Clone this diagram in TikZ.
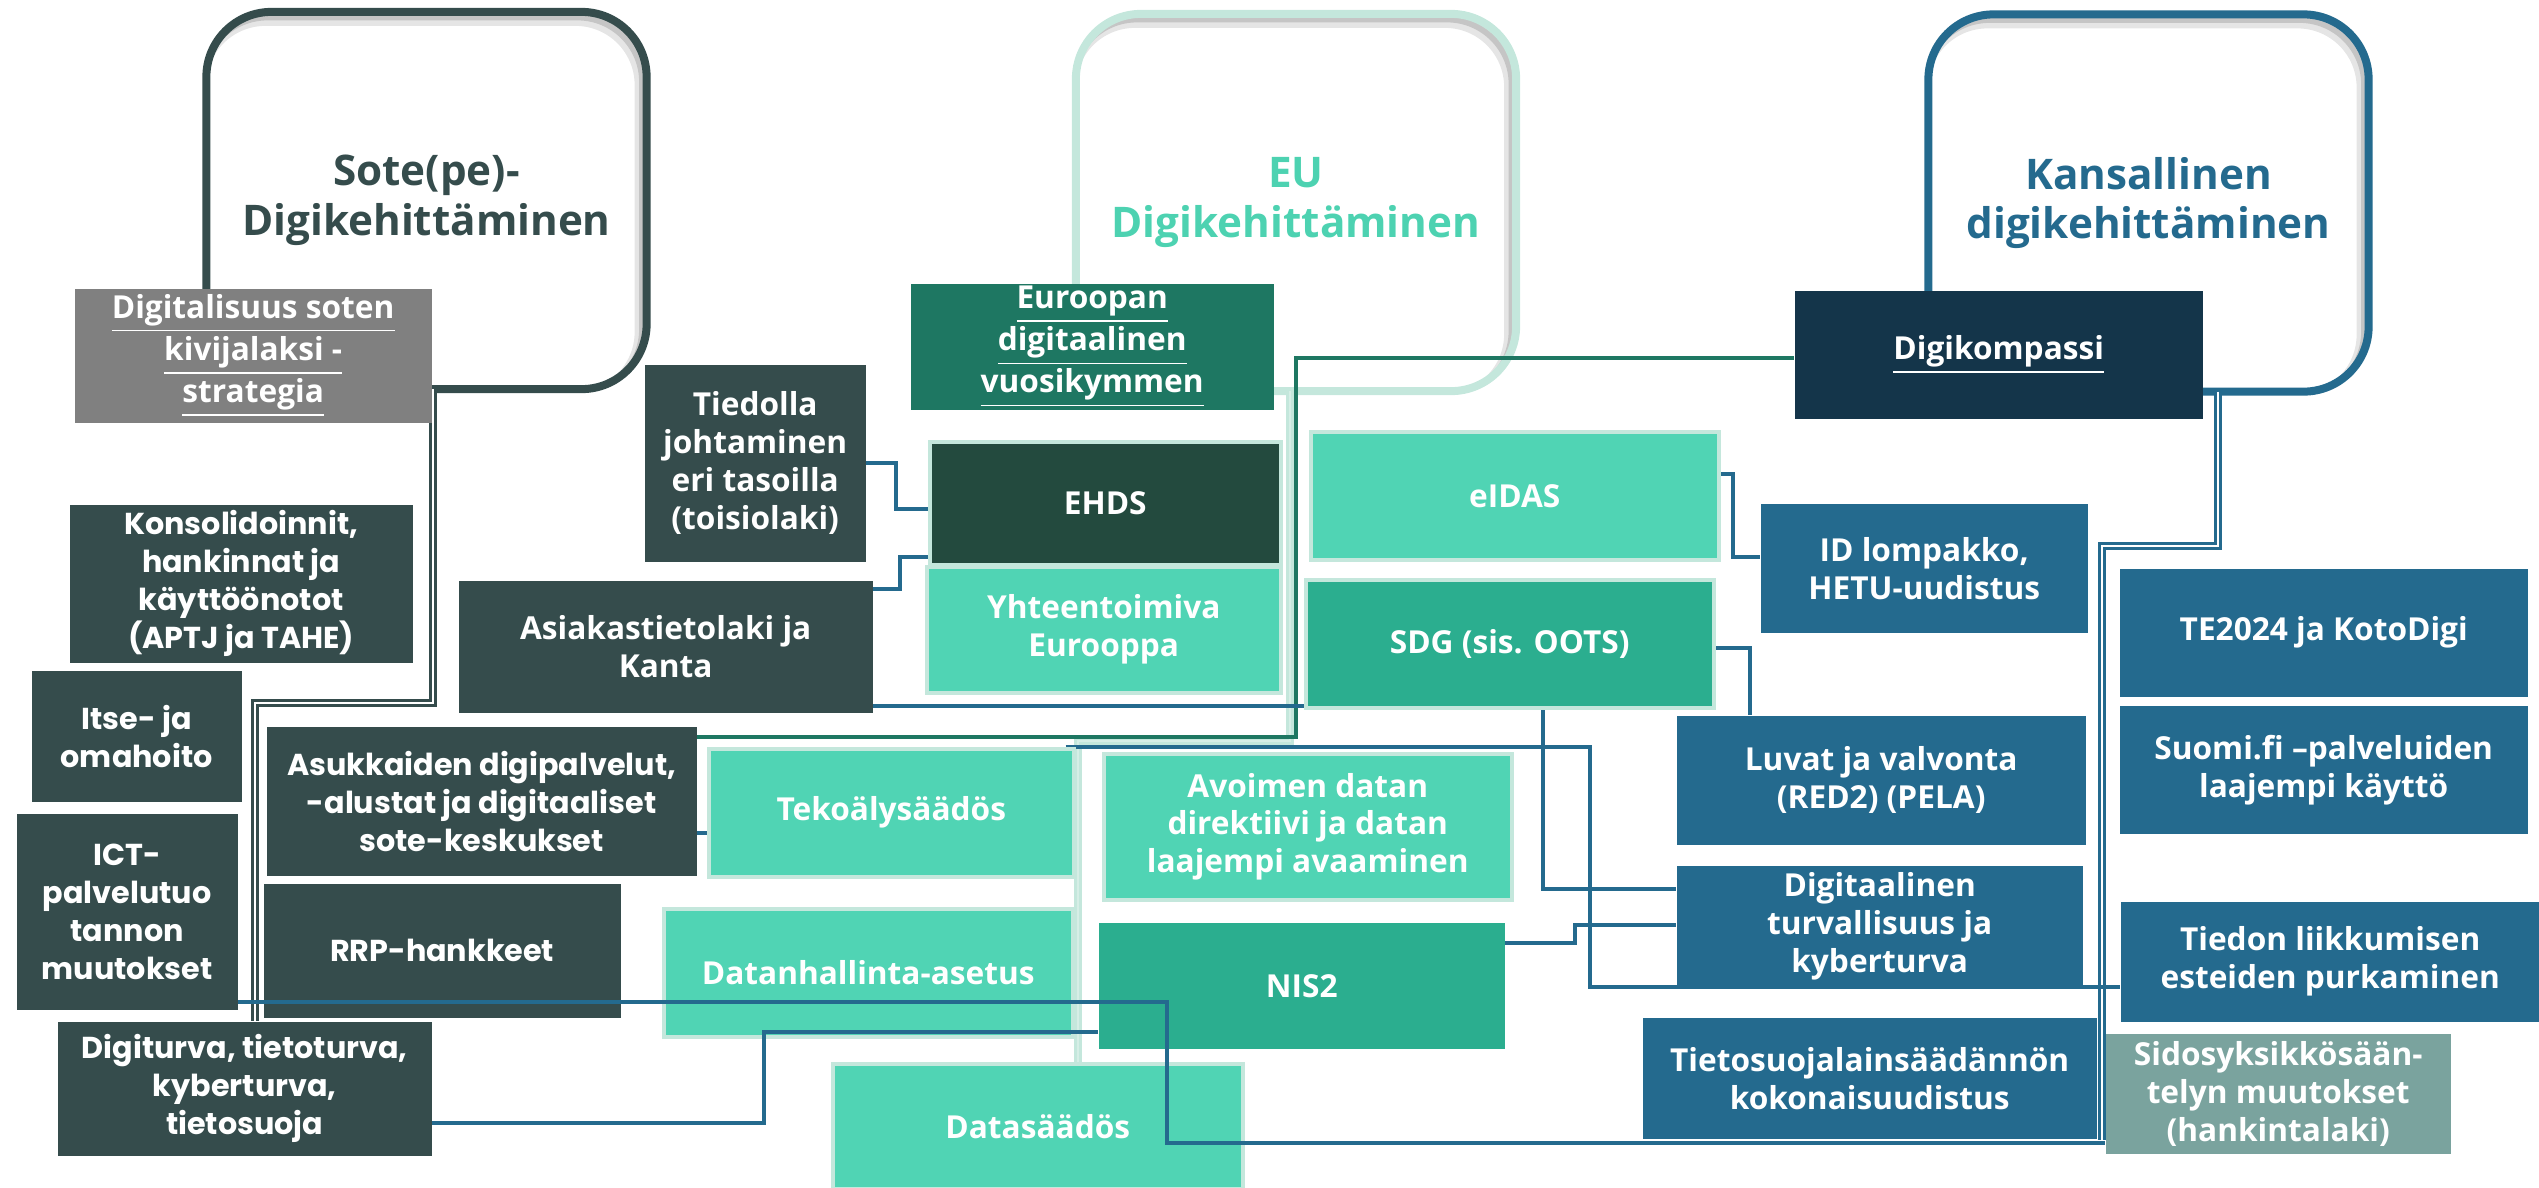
\documentclass[tikz,border=0pt]{standalone}
\usepackage{fontspec}
\setmainfont{Open Sans}
\newfontfamily\mont{Poppins}
\usetikzlibrary{calc}
\definecolor{sotec}{HTML}{354C4C}
\definecolor{greyc}{HTML}{808080}
\definecolor{tealc}{HTML}{1E7762}
\definecolor{ehdsc}{HTML}{234A3E}
\definecolor{mint}{HTML}{50D4B4}
\definecolor{pale}{HTML}{C4E7DC}
\definecolor{palein}{HTML}{D6EEE6}
\definecolor{sdgc}{HTML}{2BAE8F}
\definecolor{bluec}{HTML}{246A8E}
\definecolor{navy}{HTML}{14354A}
\definecolor{sidosc}{HTML}{7AA39E}
\definecolor{eutxt}{HTML}{4DD2B1}
\newcommand\titlef{\fontsize{12}{14.2}\selectfont\bfseries}
\newcommand\bodyf{\fontsize{9}{10.8}\selectfont\bfseries}
\newcommand\montf{\mont\fontsize{8.6}{10.8}\selectfont\bfseries}
\pgfdeclarelayer{shadow}
\pgfdeclarelayer{frames}
\pgfdeclarelayer{lines}
\pgfsetlayers{shadow,frames,lines,main}
\tikzset{
  frame/.style={rounded corners=0.65cm, line width=0.08cm, outer sep=0pt,
    minimum width=4.4cm, minimum height=3.77cm, align=center, font=\titlef, inner sep=0pt},
  soft shade/.style={draw=black, opacity=0.10, line width=0.12cm, rounded corners=0.65cm},
  hard shade/.style={draw=black, opacity=0.14, line width=0.07cm, rounded corners=0.65cm},
  box/.style={anchor=north west, inner sep=0pt, align=center, text=white, font=\bodyf},
  sbox/.style={box, fill=sotec, font=\montf},
  spbox/.style={box, fill=sotec},
  mbox/.style={box, fill=mint, draw=pale, line width=0.035cm},
  gbox/.style={box, fill=sdgc},
  nbox/.style={box, fill=bluec},
  dbl/.style={line width=0.034cm, double distance=0.017cm, double=white},
  bl/.style={draw=bluec, line width=0.035cm},
  tl/.style={draw=tealc, line width=0.035cm},
}
\newcommand\addbox[7][]{%
  \node[#1, minimum width={(#5-#3)*0.01cm}, minimum height={(#6-#4)*0.01cm}] (#2) at (#3,#4) {#7};}
\begin{document}
\begin{tikzpicture}[x=0.01cm,y=-0.01cm]
\useasboundingbox (0,0) rectangle (2539,1187);
\begin{pgfonlayer}{frames}
\node[frame, draw=sotec, text=sotec] (sote) at (426.5,200.5) {Sote(pe)-\\Digikehittäminen};
\node[frame, draw=pale, text=eutxt] (eu) at (1296,202.5) {EU\\Digikehittäminen};
\node[frame, draw=bluec, text=bluec] (kans) at (2148.5,203) {Kansallinen\\digikehittäminen};
\end{pgfonlayer}
\begin{pgfonlayer}{shadow}
\foreach \n in {sote,eu,kans}{
  \begin{scope}
  \clip[rounded corners=0.65cm] (\n.south west) rectangle (\n.north east);
  \draw[soft shade] ([shift={(-6,8)}]\n.south west) rectangle ([shift={(-6,8)}]\n.north east);
  \draw[hard shade] ([shift={(-4,5)}]\n.south west) rectangle ([shift={(-4,5)}]\n.north east);
  \end{scope}}
\end{pgfonlayer}
% Sote side
\addbox[box, fill=greyc]{strategia}{74}{288}{431}{422}{\underline{Digitalisuus soten}\\\underline{kivijalaksi -}\\\underline{strategia}}
\addbox[spbox]{tiedolla}{644}{364}{865}{561}{Tiedolla\\johtaminen\\eri tasoilla\\(toisiolaki)}
\addbox[spbox]{asiakas}{458}{580}{872}{712}{Asiakastietolaki ja\\Kanta}
\addbox[sbox]{konsol}{69}{504}{412}{662}{Konsolidoinnit,\\hankinnat ja\\käyttöönotot\\(APTJ ja TAHE)}
\addbox[sbox]{itse}{31}{670}{241}{801}{Itse- ja\\omahoito}
\addbox[sbox]{ict}{16}{813}{237}{1009}{ICT-\\palvelutuo\\tannon\\muutokset}
\addbox[sbox]{asukk}{266}{726}{696}{875}{Asukkaiden digipalvelut,\\-alustat ja digitaaliset\\sote-keskukset}
\addbox[sbox]{rrp}{263}{883}{620}{1017}{RRP-hankkeet}
\addbox[sbox]{digiturva}{57}{1021}{431}{1155}{Digiturva, tietoturva,\\kyberturva,\\tietosuoja}
% EU side
\addbox[box, fill=tealc]{euroopan}{910}{283}{1273}{409}{\underline{Euroopan}\\\underline{digitaalinen}\\\underline{vuosikymmen}}
\addbox[box, fill=ehdsc, draw=pale, line width=0.035cm]{ehds}{928}{440}{1279}{563}{EHDS}
\addbox[mbox]{yht}{925}{565}{1279}{691}{Yhteentoimiva\\Eurooppa}
\addbox[mbox]{eidas}{1309}{430}{1717}{558}{eIDAS}
\addbox[gbox, draw=pale, line width=0.035cm]{sdg}{1304}{578}{1712}{706}{SDG (sis. OOTS)}
\addbox[mbox]{tekoaly}{707}{747}{1072}{875}{Tekoälysäädös}
\addbox[mbox]{avoimen}{1102}{752}{1510}{898}{Avoimen datan\\direktiivi ja datan\\laajempi avaaminen}
\addbox[mbox]{datanh}{662}{907}{1071}{1035}{Datanhallinta-asetus}
\addbox[gbox]{nis2}{1098}{922}{1504}{1048}{NIS2}
\addbox[mbox]{datasaados}{831}{1062}{1241}{1187}{Datasäädös}
% National side
\addbox[box, fill=navy]{digikomp}{1794}{290}{2202}{418}{\underline{Digikompassi}}
\addbox[nbox]{idlomp}{1760}{503}{2087}{632}{ID lompakko,\\HETU-uudistus}
\addbox[nbox]{luvat}{1676}{715}{2085}{844}{Luvat ja valvonta\\(RED2) (PELA)}
\addbox[nbox]{digiturv}{1676}{865}{2082}{986}{Digitaalinen\\turvallisuus ja\\kyberturva}
\addbox[nbox]{tietosuoja}{1642}{1017}{2096}{1138}{Tietosuojalainsäädännön\\kokonaisuudistus}
\addbox[nbox]{te2024}{2119}{568}{2527}{696}{TE2024 ja KotoDigi}
\addbox[nbox]{suomifi}{2119}{705}{2527}{833}{Suomi.fi –palveluiden\\laajempi käyttö}
\addbox[nbox]{tiedon}{2120}{901}{2539}{1021}{Tiedon liikkumisen\\esteiden purkaminen}
\addbox[box, fill=sidosc]{sidos}{2105}{1033}{2450}{1153}{Sidosyksikkösään-\\telyn muutokset\\(hankintalaki)}
% connectors
\begin{pgfonlayer}{lines}
\draw[dbl, draw=sotec] (sote.south -| 433,0) |- (255,703) -- (digiturva.north -| 255,0);
\draw[dbl, draw=pale, double=palein] (eu.south -| 1290,0) |- (1078,741) -- (datasaados.north -| 1078,0);
\coordinate (kansend) at (2102,1140);
\draw[dbl, draw=bluec] (kans.south -| 2218,0) |- (2102,546) -- (kansend);
\draw[tl] (digikomp.west |- 0,358) -| (1296,737) -- (asukk.east |- 0,737);
\draw[bl] (tiedolla.east |- 0,463) -| (896,509) -- (ehds.west |- 0,509);
\draw[bl] (asiakas.east |- 0,589) -| (900,557) -- (ehds.west |- 0,557);
\draw[bl] (asiakas.east |- 0,706) -| (1543,889) -- (digiturv.west |- 0,889);
\draw[bl] ([xshift=-0.1cm]tekoaly.north east) -| (1590,987) -- (tiedon.west |- 0,987);
\draw[bl] (asukk.east |- 0,833) -- (tekoaly.west |- 0,833);
\draw[bl] (nis2.east |- 0,943) -| (1575,925) -- (digiturv.west |- 0,925);
\draw[bl] (sdg.east |- 0,648) -| (luvat.north -| 1750,0);
\draw[bl] (eidas.east |- 0,474) -| (1733,557) -- (idlomp.west |- 0,557);
\end{pgfonlayer}
\draw[bl] (ict.east |- 0,1002) -| (1167,1143) -- (sidos.west |- 0,1143);
\draw[bl] (digiturva.east |- 0,1123) -| (764,1032) -- (nis2.west |- 0,1032);
\end{tikzpicture}
\end{document}
